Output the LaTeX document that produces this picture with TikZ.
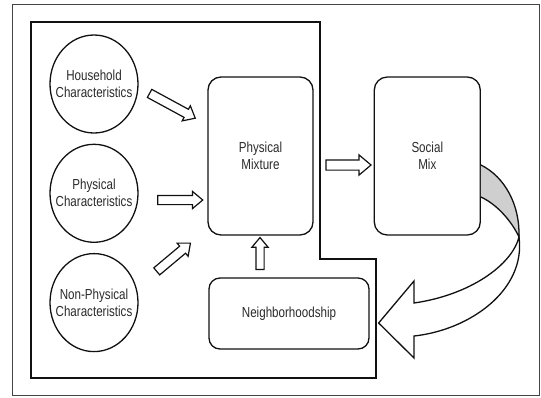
\documentclass[tikz,border=0pt]{standalone}
\usepackage{fontspec}
\setmainfont{Liberation Sans}[FakeStretch=0.8]
\usepackage{tikz}
\usetikzlibrary{shapes.geometric,shapes.arrows,positioning,calc}
\definecolor{inkBlack}{HTML}{111111}
\definecolor{textGray}{HTML}{2A2A2A}
\definecolor{ribbonGray}{HTML}{CFCFCF}
\definecolor{frameGray}{HTML}{444444}

\begin{document}
\begin{tikzpicture}[
    x=1pt, y=-1pt,
    node distance=10pt,
    factorNode/.style={ellipse, draw=inkBlack, line width=1.3pt, minimum width=88pt, minimum height=98pt, inner xsep=-12pt, inner ysep=0pt, align=center, text=textGray, font=\fontsize{14.5}{17}\selectfont},
    stageNode/.style={rectangle, draw=inkBlack, line width=1.3pt, rounded corners=13pt, inner sep=0pt, align=center, text=textGray, font=\fontsize{14.5}{17}\selectfont},
    blockArrow/.style={single arrow, draw=inkBlack, line width=1.2pt, fill=white, inner xsep=0pt, inner ysep=4pt, single arrow head extend=4pt, single arrow tip angle=80}
]
\useasboundingbox (0,0) rectangle (541,397);
\draw[frameGray, line width=0.8pt] (12,4) rectangle (539,395);

\draw[inkBlack, line width=1.6pt] (31,22) -- (320,22) -- (320,259) -- (376,259) -- (376,378) -- (31,378) -- cycle;

\node[factorNode] (house) at (94,84) {Household\\Characteristics};
\node[factorNode, below=of house] (phys) {Physical\\Characteristics};
\node[factorNode, below=of phys] (nonphys) {Non-Physical\\Characteristics};

\node[stageNode, minimum width=105pt, minimum height=158pt] (mix) at (260.5,156) {Physical\\Mixture};
\node[stageNode, minimum width=106pt, minimum height=158pt, right=60pt of mix] (social) {Social\\Mix};
\node[stageNode, minimum width=160pt, minimum height=71pt, rounded corners=11pt] (neigh) at (289,313.5) {Neighborhoodship};

\node[blockArrow, minimum height=52pt, rotate=-28.5] (a1) at (170,104.5) {};
\node[blockArrow, minimum height=45pt] (a2) at (177.5,200) {};
\node[blockArrow, minimum height=44pt, rotate=40] (a3) at (171.5,259) {};
\node[blockArrow, minimum height=32pt, rotate=90, inner ysep=3.5pt] (a4) at (260,256) {};
\node[blockArrow, minimum height=45pt, inner ysep=4.5pt, single arrow head extend=5pt] (a5) at (345.5,165) {};

\coordinate (tip) at ($(neigh.east)+(9,9.5)$);
\coordinate (twist) at (519,237);
\draw[inkBlack, line width=1.3pt, fill=ribbonGray] ($(social.east)+(0,9)$) .. controls (505,177) and (520,205) .. (twist) .. controls (512,222) and (498,205) .. ($(social.east)+(0,41)$);
\draw[inkBlack, line width=1.3pt, fill=white, line join=miter] (tip) -- (414,281) -- (414,303) .. controls (470,295) and (512,265) .. (twist) .. controls (526,290) and (470,330) .. (414,336) -- (414,358) -- cycle;

\end{tikzpicture}
\end{document}
